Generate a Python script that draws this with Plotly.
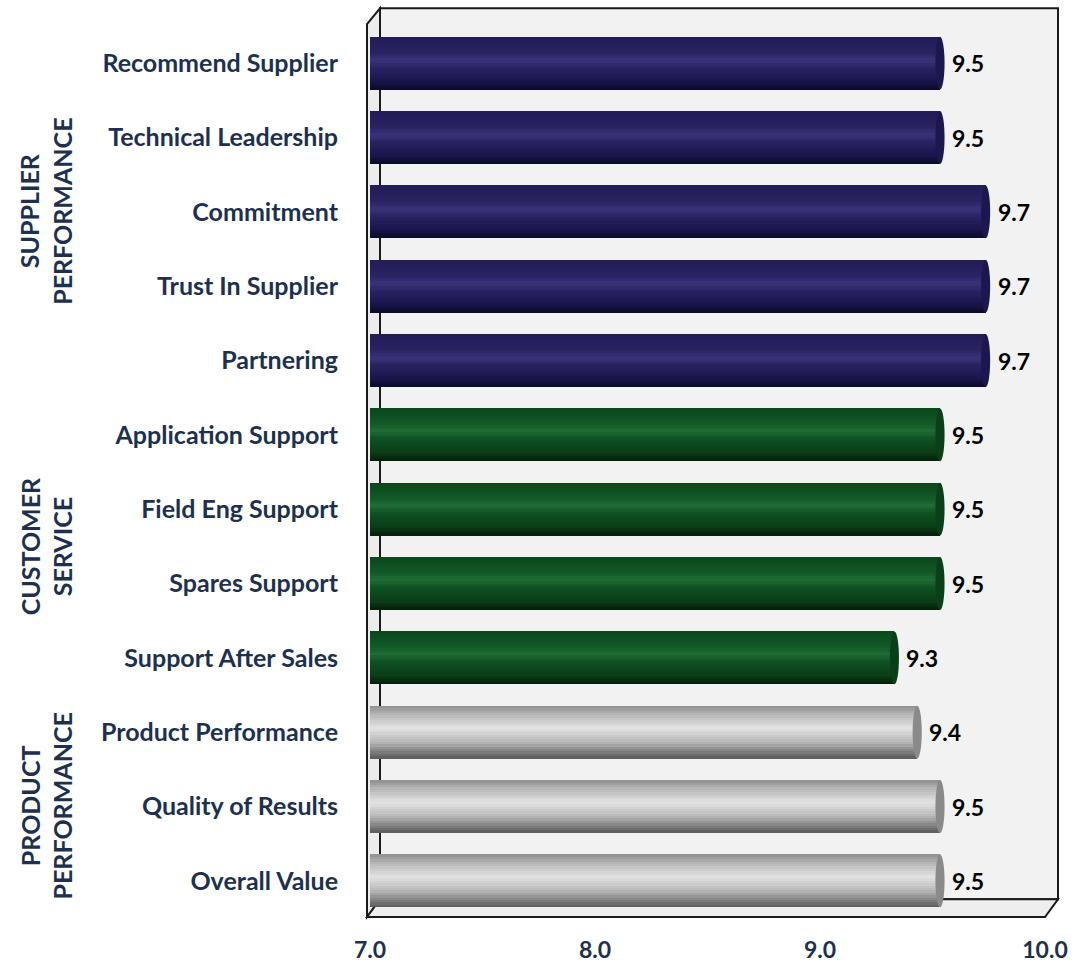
import numpy as np
import plotly.graph_objects as go

# ---------------- data ----------------
categories = [
    "Recommend Supplier", "Technical Leadership", "Commitment", "Trust In Supplier",
    "Partnering", "Application Support", "Field Eng Support", "Spares Support",
    "Support After Sales", "Product Performance", "Quality of Results", "Overall Value",
]
values = [9.5, 9.5, 9.7, 9.7, 9.7, 9.5, 9.5, 9.5, 9.3, 9.4, 9.5, 9.5]
groups = ["supplier"] * 5 + ["service"] * 4 + ["product"] * 3
group_labels = {
    "supplier": "SUPPLIER<br>PERFORMANCE",
    "service": "CUSTOMER<br>SERVICE",
    "product": "PRODUCT<br>PERFORMANCE",
}
tick_values = [7, 8, 9, 10]
tick_labels = ["7.0", "8.0", "9.0", "10.0"]

# ---------------- styling ----------------
FONT = "Lato"
NAVY_TEXT = "#1d3050"
W, H = 1091, 975
P_LEFT, P_RIGHT, P_TOP, P_BOTTOM = 370, 1054, 26, 933
ML, MT = P_LEFT, P_TOP
MR, MB = W - P_RIGHT, H - P_BOTTOM
PW, PH = W - ML - MR, H - MT - MB

shade_stops = {
    "supplier": [(0.0, "#211b56"), (0.30, "#2a2362"), (0.45, "#3a337a"), (0.58, "#2a2363"),
                 (0.82, "#1b164e"), (1.0, "#0b0928")],
    "service": [(0.0, "#0a481c"), (0.28, "#125826"), (0.43, "#1f6c35"), (0.58, "#0f5122"),
                (0.84, "#0a3c17"), (1.0, "#031f08")],
    "product": [(0.0, "#8e8e8e"), (0.15, "#b3b3b3"), (0.42, "#e3e3e3"), (0.68, "#b9b9b9"),
                (0.88, "#7c7c7c"), (1.0, "#5a5a5a")],
}
cap_colors = {"supplier": "#1d1750", "service": "#0a4019", "product": "#8a8a8a"}


def hex2rgb(h):
    h = h.lstrip("#")
    return np.array([int(h[i:i + 2], 16) for i in (0, 2, 4)], dtype=float)


def shade(group, t):
    stops = shade_stops[group]
    ts = [s[0] for s in stops]
    cs = np.array([hex2rgb(s[1]) for s in stops])
    rgb = [np.interp(t, ts, cs[:, k]) for k in range(3)]
    return "rgb(%d,%d,%d)" % tuple(int(round(c)) for c in rgb)


positions = list(range(len(categories)))
BAR_W = 0.71
N_STRIPS = 22
strip_w = BAR_W / N_STRIPS

fig = go.Figure()

# cylinder bodies built from horizontal strips
for i in range(N_STRIPS):
    t = (i + 0.5) / N_STRIPS
    fig.add_trace(go.Bar(
        x=[v - 7 for v in values], base=7, y=positions, orientation="h",
        width=strip_w * 1.04, offset=-BAR_W / 2 + i * strip_w,
        marker=dict(color=[shade(g, t) for g in groups], line=dict(width=0)),
        showlegend=False, hoverinfo="skip", xaxis="x", yaxis="y",
    ))

# invisible trace to carry the tick axis
fig.add_trace(go.Scatter(x=[7, 10], y=[0, 0], mode="markers", marker=dict(opacity=0),
                         showlegend=False, hoverinfo="skip", xaxis="x2", yaxis="y"))


def px_x(px):
    return (px - P_LEFT) / PW


def px_y(py):
    return (P_BOTTOM - py) / PH


shapes = []
frame_line = dict(color="#1a1a1a", width=2)
# back wall
shapes.append(dict(type="path", xref="paper", yref="paper", layer="below",
                   path=f"M{px_x(380)},{px_y(914)} L{px_x(380)},{px_y(8)} L{px_x(1058)},{px_y(8)} L{px_x(1058)},{px_y(914)} Z",
                   fillcolor="#f2f2f2", line=frame_line))
# left wall
shapes.append(dict(type="path", xref="paper", yref="paper", layer="below",
                   path=f"M{px_x(367)},{px_y(932)} L{px_x(367)},{px_y(24)} L{px_x(380)},{px_y(8)} L{px_x(380)},{px_y(914)} Z",
                   fillcolor="#ececec", line=frame_line))
# floor
shapes.append(dict(type="path", xref="paper", yref="paper", layer="below",
                   path=f"M{px_x(367)},{px_y(932)} L{px_x(380)},{px_y(914)} L{px_x(1058)},{px_y(914)} L{px_x(1045)},{px_y(932)} Z",
                   fillcolor="#eeeeee", line=frame_line))

# cylinder end caps
for p, v, g in zip(positions, values, groups):
    shapes.append(dict(type="circle", xref="x", yref="y", layer="above",
                       x0=v - 0.02, x1=v + 0.02, y0=p - BAR_W / 2, y1=p + BAR_W / 2,
                       fillcolor=cap_colors[g], line=dict(width=0)))

annotations = []
for p, v in zip(positions, values):
    annotations.append(dict(x=v, y=p, xref="x", yref="y", text=f"{v:.1f}", showarrow=False,
                            xanchor="left", yanchor="middle", xshift=10,
                            font=dict(family=FONT, size=23, color="#000000", weight="bold")))

for g in ["supplier", "service", "product"]:
    idx = [p for p, gg in zip(positions, groups) if gg == g]
    mid = (min(idx) + max(idx)) / 2
    annotations.append(dict(x=px_x(46), y=mid, xref="paper", yref="y", text=group_labels[g],
                            showarrow=False, textangle=-90, xanchor="center", yanchor="middle",
                            align="center",
                            font=dict(family=FONT, size=25, color=NAVY_TEXT, weight="bold")))

fig.update_layout(
    width=W, height=H,
    margin=dict(l=ML, r=MR, t=MT, b=MB, pad=0),
    paper_bgcolor="white", plot_bgcolor="rgba(0,0,0,0)",
    barmode="overlay", bargap=0,
    shapes=shapes, annotations=annotations,
    xaxis=dict(domain=[0, 1], range=[7, 10], visible=False, anchor="y"),
    xaxis2=dict(domain=[0, (1045 - P_LEFT) / PW], range=[7, 10], anchor="y",
                tickvals=tick_values, ticktext=tick_labels,
                showgrid=False, zeroline=False, showline=False,
                ticks="outside", ticklen=11, tickcolor="rgba(0,0,0,0)",
                tickfont=dict(family=FONT, size=23, color=NAVY_TEXT, weight="bold")),
    yaxis=dict(range=[11.5, -0.5], tickvals=positions, ticktext=categories,
               showgrid=False, zeroline=False, showline=False, anchor="x",
               ticks="outside", ticklen=26, tickcolor="rgba(0,0,0,0)",
               tickfont=dict(family=FONT, size=25, color=NAVY_TEXT, weight="bold")),
)

fig.write_html(
    "out.html",
    config={"displayModeBar": False},
    post_script="document.body.style.margin='0';document.body.style.overflow='hidden';",
)
